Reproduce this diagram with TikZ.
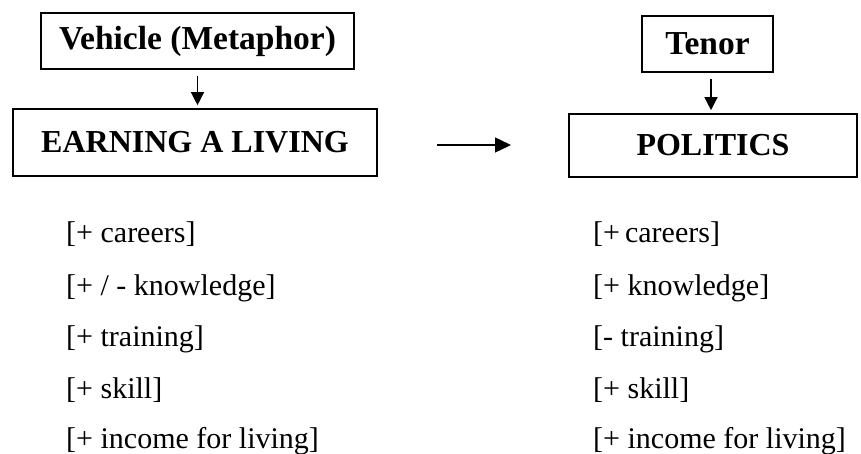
\documentclass[tikz,border=0pt]{standalone}
\usepackage{fontspec}
\setmainfont{Liberation Serif}
\usetikzlibrary{arrows.meta}
\begin{document}
\begin{tikzpicture}[x=1pt,y=-1pt,
  headbox/.style={draw=black, line width=1.6pt, inner sep=0pt, align=center,
    font=\fontsize{32}{38}\selectfont\bfseries},
  smallhead/.style={headbox, font=\fontsize{33.5}{40}\selectfont\bfseries},
  featitem/.style={anchor=base west, inner sep=0pt,
    font=\fontsize{30}{36}\selectfont},
  downarrow/.style={line width=1.3pt, shorten <=6pt, shorten >=3pt,
    -{Triangle[length=13pt,width=13pt]}},
  maparrow/.style={line width=1.4pt, -{Triangle[length=16pt,width=15pt]}}]
  \useasboundingbox (0,0) rectangle (861,454);
  % source domain
  \node[smallhead, minimum width=313pt, minimum height=56pt] (vehicle) at (197.5,41) {Vehicle (Metaphor)};
  \node[headbox, minimum width=364pt, minimum height=67pt] (earning) at (195,142.5) {EARNING A LIVING};
  % target domain
  \node[smallhead, minimum width=131pt, minimum height=56pt] (tenor) at (707.5,44) {Tenor};
  \node[headbox, minimum width=288pt, minimum height=63pt] (politics) at (713,145.5) {POLITICS};
  % arrows from each label box straight down to its domain box
  \draw[downarrow] (vehicle.south) -- (vehicle.south |- earning.north);
  \draw[downarrow] ([xshift=3.5pt]tenor.south) -- ([xshift=3.5pt]tenor.south |- politics.north);
  % mapping from vehicle to tenor
  \coordinate (mapstart) at (437,145);
  \coordinate (mapend) at (511,145);
  \draw[maparrow] (mapstart) -- (mapend);
  % features of the vehicle
  \node[featitem] (v1) at (66,242) {[+ careers]};
  \node[featitem] (v2) at (66,295) {[+ / - knowledge]};
  \node[featitem] (v3) at (66,346) {[+ training]};
  \node[featitem] (v4) at (66,398) {[+ skill]};
  \node[featitem] (v5) at (66,448) {[+ income for living]};
  % features of the tenor
  \node[featitem] (t1) at (593,242) {[+\,careers]};
  \node[featitem] (t2) at (593,295) {[+ knowledge]};
  \node[featitem] (t3) at (593,346) {[- training]};
  \node[featitem] (t4) at (593,398) {[+ skill]};
  \node[featitem] (t5) at (593,448) {[+ income for living]};
\end{tikzpicture}
\end{document}
